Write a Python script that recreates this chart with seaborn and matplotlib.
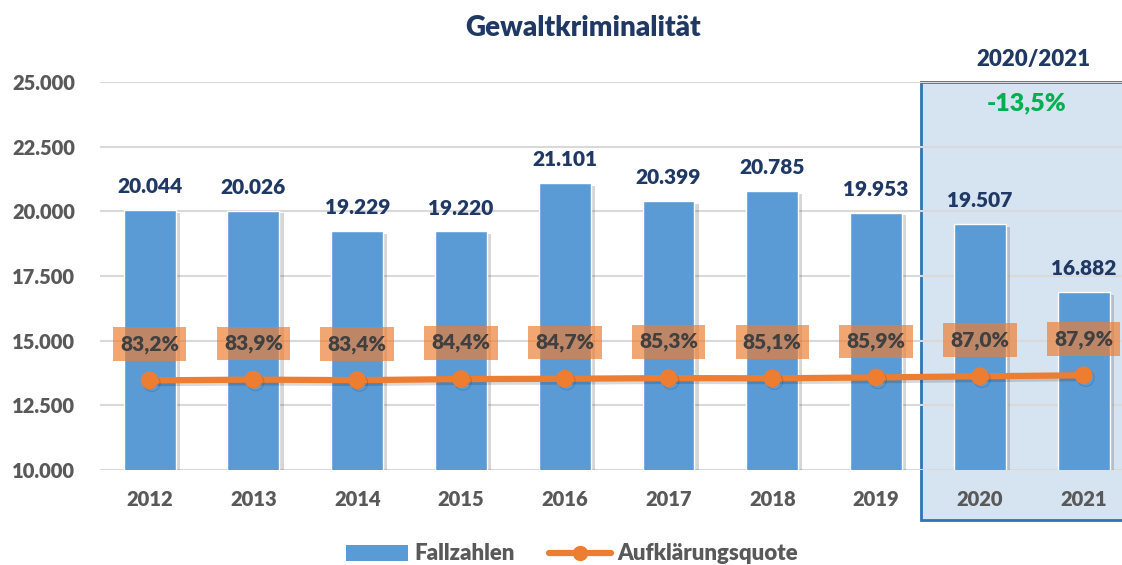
import numpy as np
import matplotlib
matplotlib.use("Agg")
import matplotlib.pyplot as plt
import matplotlib.patheffects as pe
from matplotlib.patches import Rectangle, Patch
from matplotlib.lines import Line2D
import seaborn as sns

years = ["2012", "2013", "2014", "2015", "2016", "2017", "2018", "2019", "2020", "2021"]
fallzahlen = [20044, 20026, 19229, 19220, 21101, 20399, 20785, 19953, 19507, 16882]
quote = [83.2, 83.9, 83.4, 84.4, 84.7, 85.3, 85.1, 85.9, 87.0, 87.9]
y_ticks = [10000, 12500, 15000, 17500, 20000, 22500, 25000]

BLUE = "#5B9BD5"
ORANGE = "#ED7D31"
NAVY = "#1F3864"
GRAY = "#595959"
W = "heavy"

sns.set_style("white")
plt.rcParams["font.family"] = ["Lato", "DejaVu Sans"]


def de_num(v):
    return f"{v:,}".replace(",", ".")


fig = plt.figure(figsize=(11.22, 5.65), dpi=100)
ax = fig.add_axes([0.089, 0.168, 0.911, 0.687])
ax.set_facecolor("none")

# highlight box 2020/2021 behind the axes
box = Rectangle((921 / 1122, 1 - 520 / 565), 0.3, 0.855 - (1 - 520 / 565),
                transform=fig.transFigure, facecolor="#D6E3F0", edgecolor="#2E75B6",
                linewidth=2, zorder=-1)
fig.patches.append(box)

sns.barplot(x=years, y=fallzahlen, color=BLUE, width=0.5, ax=ax, zorder=2, saturation=1)
for bar in ax.patches:
    bar.set_path_effects([pe.SimplePatchShadow(offset=(3, -2), alpha=0.18, shadow_rgbFace="#202020"),
                          pe.Normal()])

ax.set_ylim(10000, 25000)
ax.set_xlim(-0.48, 9.37)
ax.set_yticks(y_ticks)
ax.set_yticklabels([de_num(t) for t in y_ticks], color=GRAY, fontsize=14.5, fontweight=W)
ax.set_xticklabels(years, color=GRAY, fontsize=14.5, fontweight=W)
ax.tick_params(axis="both", length=0)
ax.tick_params(axis="x", pad=14)
ax.tick_params(axis="y", pad=18)
ax.grid(axis="y", color="#D9D9D9", linewidth=1.5, zorder=0)
ax.set_axisbelow(True)
for s in ax.spines.values():
    s.set_visible(False)
ax.set_xlabel("")
ax.set_ylabel("")

for i, v in enumerate(fallzahlen):
    ax.annotate(de_num(v), (i, v), textcoords="offset points", xytext=(0, 10),
                ha="center", va="bottom", color=NAVY, fontsize=15, fontweight=W)

# secondary axis for Aufklärungsquote
ax2 = ax.twinx()
ax2.set_ylim(0, 360)
ax2.set_axis_off()
sns.lineplot(x=np.arange(len(years)), y=quote, ax=ax2, color=ORANGE, linewidth=4.5,
             marker="o", markersize=12, markeredgecolor=ORANGE,
             path_effects=[pe.SimpleLineShadow(offset=(1.5, -2), alpha=0.15), pe.Normal()])
ax2.set_xlim(ax.get_xlim())

for i, q in enumerate(quote):
    ax2.annotate(f"{q:.1f}%".replace(".", ","), (i, q), textcoords="offset points",
                 xytext=(0, 26), ha="center", va="center", color="#404040",
                 fontsize=15, fontweight=W,
                 bbox=dict(boxstyle="square,pad=0.35", facecolor=ORANGE, edgecolor="none", alpha=0.68))

fig.text(583 / 1122, 0.95, "Gewaltkriminalität", ha="center", va="center",
         color=NAVY, fontsize=20, fontweight=W)
fig.text(1033 / 1122, 1 - 60 / 565, "2020/2021", ha="center", va="center",
         color=NAVY, fontsize=16, fontweight=W)
fig.text(1027 / 1122, 1 - 103 / 565, "-13,5%", ha="center", va="center",
         color="#00B050", fontsize=18, fontweight=W)

handles = [Patch(facecolor=BLUE, edgecolor="none"),
           Line2D([0], [0], color=ORANGE, linewidth=4.5, marker="o", markersize=10)]
fig.legend(handles, ["Fallzahlen", "Aufklärungsquote"], loc="center",
           bbox_to_anchor=(572 / 1122, 1 - 554 / 565), ncol=2, frameon=False,
           prop={"size": 16, "weight": W}, labelcolor=GRAY,
           handlelength=2.8, columnspacing=1.5, handletextpad=0.3)

fig.savefig("out.png", dpi=100)
